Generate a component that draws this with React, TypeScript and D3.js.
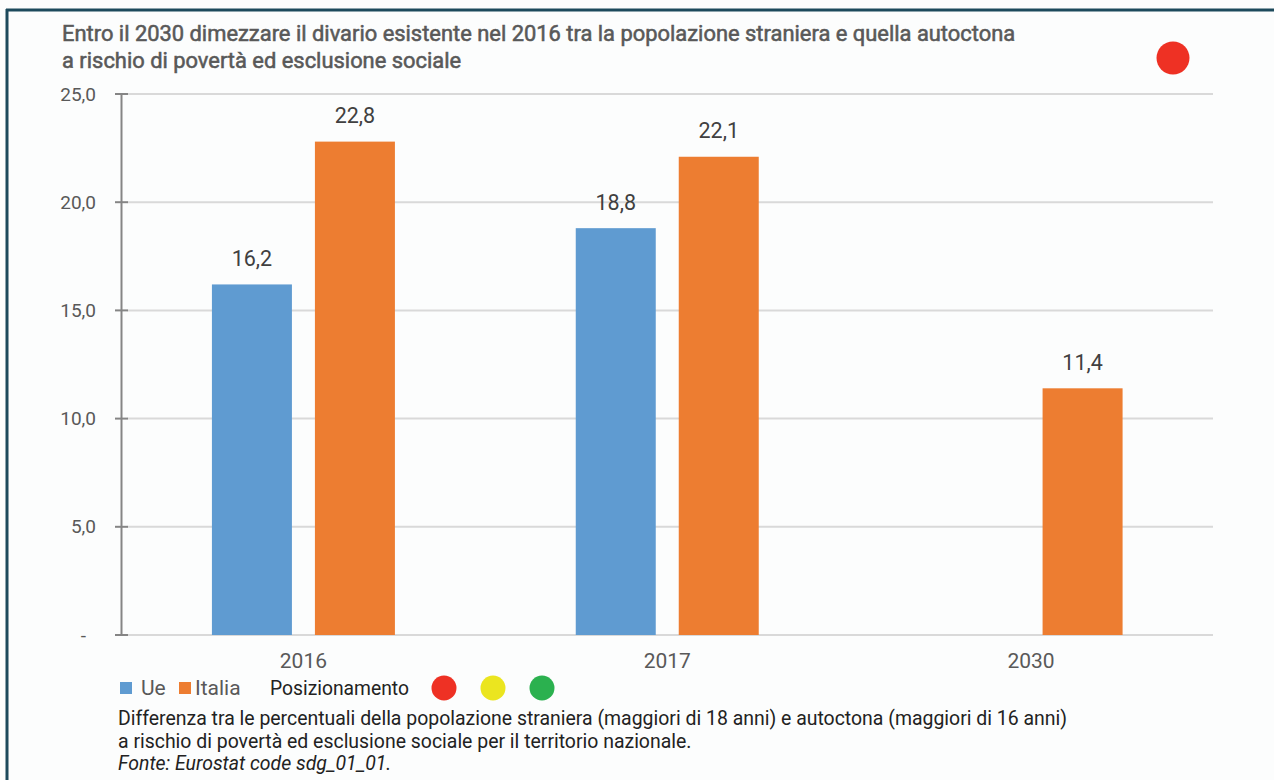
import React from "react";
import * as d3 from "d3";

const categories = ["2016", "2017", "2030"];
const seriesNames = ["Ue", "Italia"];
const ueValues: (number | null)[] = [16.2, 18.8, null];
const italiaValues: (number | null)[] = [22.8, 22.1, 11.4];
const yTicks = [0, 5, 10, 15, 20, 25];
const titleLines = [
  "Entro il 2030 dimezzare il divario esistente nel 2016 tra la popolazione straniera e quella autoctona",
  "a rischio di povertà ed esclusione sociale",
];
const noteLines = [
  "Differenza tra le percentuali della popolazione straniera (maggiori di 18 anni) e autoctona (maggiori di 16 anni)",
  "a rischio di povertà ed esclusione sociale per il territorio nazionale.",
];
const sourceLine = "Fonte: Eurostat code sdg_01_01.";
const positionColors = ["#ee3124", "#ebe51f", "#2bb14f"];
const currentPosition = "#ee3124";

const W = 1274;
const H = 780;
const colors: Record<string, string> = { Ue: "#5f9bd1", Italia: "#ed7d31" };
const FONT = "Roboto, 'Noto Sans', sans-serif";

const fmt = (v: number) => (v === 0 ? "-" : d3.format(".1f")(v).replace(".", ","));

export default function App() {
  const left = 121.5;
  const right = 1213;
  const top = 94;
  const bottom = 635;

  const x0 = d3.scaleBand<string>().domain(categories).range([left, right]).paddingInner(0).paddingOuter(0);
  const groupW = 183;
  const x1 = d3
    .scaleBand<string>()
    .domain(seriesNames)
    .range([(x0.bandwidth() - groupW) / 2, (x0.bandwidth() + groupW) / 2])
    .paddingInner(0.2233)
    .paddingOuter(0);
  const y = d3.scaleLinear().domain([0, 25]).range([bottom, top]);

  const series = [
    { name: "Ue", values: ueValues },
    { name: "Italia", values: italiaValues },
  ];

  return (
    <svg
      width={W}
      height={H}
      style={{ position: "absolute", left: 0, top: 0, background: "#fcfdfd", fontFamily: FONT }}
    >
      <rect x={0} y={0} width={W} height={H} fill="#fcfdfd" />
      {/* frame */}
      <line x1={6} x2={W} y1={10} y2={10} stroke="#1d4a5c" strokeWidth={3} />
      <line x1={7} x2={7} y1={9} y2={H} stroke="#1d4a5c" strokeWidth={3} />

      {/* title */}
      {titleLines.map((t, i) => (
        <text
          key={i}
          x={62}
          y={33 + i * 27}
          dy="0.35em"
          fontSize={21.9}
          fill="#595959"
          stroke="#595959"
          strokeWidth={0.55}
        >
          {t}
        </text>
      ))}
      <circle cx={1173} cy={58} r={16.5} fill={currentPosition} />

      {/* gridlines */}
      {yTicks.map((t) => (
        <line key={t} x1={left + 6} x2={right} y1={y(t)} y2={y(t)} stroke="#d9d9d9" strokeWidth={2} />
      ))}
      {/* y axis */}
      <line x1={left} x2={left} y1={top} y2={bottom} stroke="#858585" strokeWidth={2} />
      {yTicks.map((t) => (
        <g key={"t" + t}>
          <line x1={left - 6.5} x2={left + 6.5} y1={y(t)} y2={y(t)} stroke="#858585" strokeWidth={2} />
          <text
            x={t === 0 ? 86 : 96}
            y={y(t)}
            dy="0.35em"
            textAnchor="end"
            fontSize={19}
            fill="#595959"
          >
            {fmt(t)}
          </text>
        </g>
      ))}

      {/* bars */}
      {categories.map((c, ci) => (
        <g key={c} transform={`translate(${x0(c)},0)`}>
          {series.map((s) => {
            const v = s.values[ci];
            if (v == null) return null;
            const bx = x1(s.name)!;
            return (
              <g key={s.name}>
                <rect x={bx} y={y(v)} width={x1.bandwidth()} height={y(0) - y(v)} fill={colors[s.name]} />
                <text
                  x={bx + x1.bandwidth() / 2}
                  y={y(v) - 26}
                  dy="0.35em"
                  textAnchor="middle"
                  fontSize={21.5}
                  fill="#404040"
                >
                  {fmt(v)}
                </text>
              </g>
            );
          })}
          <text
            x={x0.bandwidth() / 2}
            y={661}
            dy="0.35em"
            textAnchor="middle"
            fontSize={21}
            fill="#595959"
          >
            {c}
          </text>
        </g>
      ))}

      {/* legend */}
      <g>
        <rect x={120} y={682} width={12} height={12} fill={colors.Ue} />
        <text x={141} y={688} dy="0.35em" fontSize={21} fill="#595959">
          Ue
        </text>
        <rect x={179} y={682} width={12} height={12} fill={colors.Italia} />
        <text x={195} y={688} dy="0.35em" fontSize={21} fill="#595959">
          Italia
        </text>
        <text x={270} y={688} dy="0.35em" fontSize={19.3} fill="#222222">
          Posizionamento
        </text>
        {positionColors.map((pc, i) => (
          <circle key={pc} cx={444 + i * 49} cy={688} r={12.5} fill={pc} />
        ))}
      </g>

      {/* notes */}
      {noteLines.map((t, i) => (
        <text key={i} x={118} y={718 + i * 23} dy="0.35em" fontSize={19.45} fill="#222222">
          {t}
        </text>
      ))}
      <text x={118} y={763} dy="0.35em" fontSize={19.45} fontStyle="italic" fill="#222222">
        {sourceLine}
      </text>
    </svg>
  );
}
